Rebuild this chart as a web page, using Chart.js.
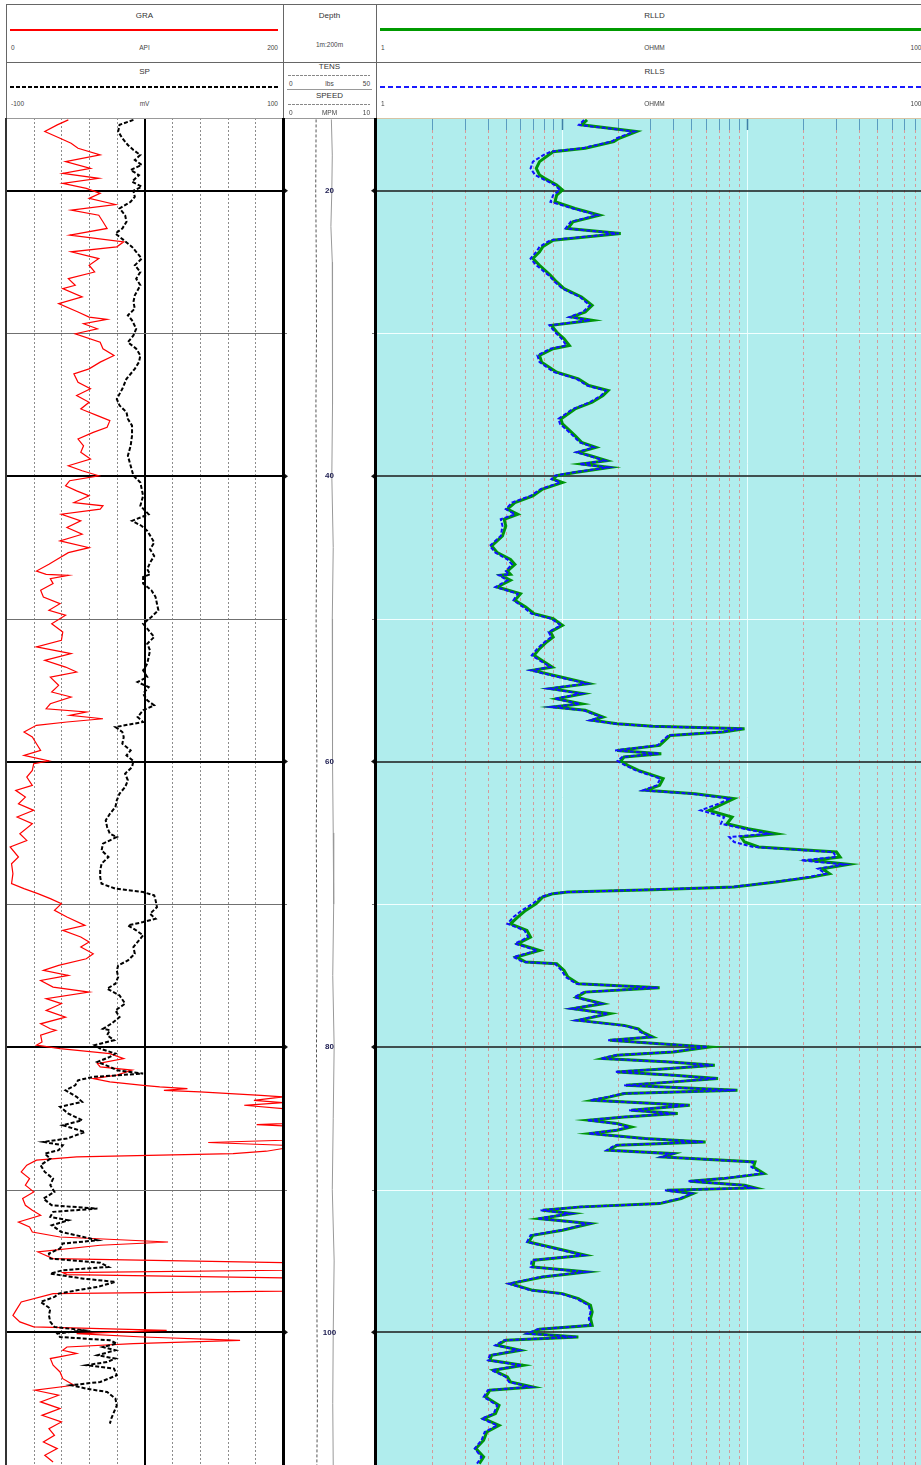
<!DOCTYPE html>
<html lang="en">
<head>
<meta charset="utf-8">
<title>Well log</title>
<script src="https://cdn.jsdelivr.net/npm/chart.js@4.4.1/dist/chart.umd.min.js"></script>
<style>
html, body { margin: 0; padding: 0; background: #fff; overflow: hidden; }
body { position: relative; width: 921px; height: 1465px; font-family: "Liberation Sans", Arial, sans-serif; }
canvas, .ln, .t { position: absolute; }
.t { white-space: nowrap; color: #444; font-size: 6.5px; line-height: 8px; }
.t.ttl { font-size: 8px; line-height: 10px; color: #333; }
.t.c { transform: translateX(-50%); }
.t.r { transform: translateX(-100%); }
</style>
</head>
<body>
<canvas id="leftTrack" width="277" height="1347" style="left:6px;top:118px"></canvas>
<canvas id="depthTrack" width="93" height="1347" style="left:283px;top:118px"></canvas>
<canvas id="resTrack" width="557" height="1347" style="left:376px;top:118px"></canvas>
<script>
// depth window of the log (m)
const DEPTH_MIN = 14.9;
const DEPTH_MAX = 109.3;
const MAJOR_DEPTHS = [20, 40, 60, 80, 100];
const MINOR_DEPTHS = [30, 50, 70, 90];
const GR_TICKS = [0, 20, 40, 60, 80, 100, 120, 140, 160, 180, 200];
const RES_MINOR = [2, 3, 4, 5, 6, 7, 8, 9, 20, 30, 40, 50, 60, 70, 80, 90, 200, 300, 400, 500, 600, 700, 800, 900];
const RES_DECADES = [10, 100];

// [depth m, API]
const GRA = [
  [15.03,45],[15.38,37],[15.85,28],[16.32,39],[16.67,47],[17.02,52],[17.49,68],[17.96,43],[18.43,61],[18.78,41],
  [19.13,67],[19.48,41],[19.83,58],[20.18,68],[20.53,60],[20.96,79],[21.35,47],[21.71,67],[22.17,70],[22.64,73],
  [23.11,46],[23.58,85],[23.93,80],[24.28,47],[24.75,67],[25.22,60],[25.69,64],[26.16,45],[26.62,50],[26.86,41],
  [27.44,55],[27.91,38],[28.5,52],[28.85,60],[29.01,73],[29.32,56],[29.67,66],[30.02,50],[30.61,68],[31.07,70],
  [31.54,78],[32.01,68],[32.48,60],[32.83,49],[33.42,52],[33.88,61],[34.35,51],[34.82,60],[35.29,54],[35.76,66],
  [36.11,75],[36.58,73],[36.93,63],[37.4,52],[37.87,56],[38.33,54],[38.8,61],[39.27,45],[39.62,55],[39.97,67],
  [40.32,46],[40.68,43],[41.03,51],[41.38,60],[41.85,49],[42.08,70],[42.31,68],[42.67,40],[43.13,54],[43.6,44],
  [44.07,55],[44.54,39],[45.01,60],[45.36,45],[45.83,37],[46.18,31],[46.65,22],[46.88,29],
  [46.95,45],[47.18,32],[47.53,34],[48.0,25],[48.47,27],[48.94,39],[49.4,31],[49.75,43],[50.34,33],[50.92,41],
  [51.51,40],[51.97,22],[52.44,47],[52.91,28],[53.38,43],[53.73,51],[54.08,32],[54.66,38],[55.13,33],[55.48,47],
  [55.95,32],[56.3,29],[56.53,58],[56.76,46],[57.0,70],[57.23,44],[57.46,22],[57.93,13],[58.28,19],[58.75,22],
  [59.22,25],[59.57,13],[59.96,31],[60.15,20],[60.62,19],[61.09,15],[61.67,19],[62.02,7],[62.49,14],[62.96,9],
  [63.42,20],[63.89,8],[64.36,19],[65.06,10],[65.53,15],[65.99,3],[66.69,9],[67.16,4],[67.86,5],[68.56,4],
  [68.91,13],[69.26,23],[69.61,32],[69.96,40],[70.43,35],[70.9,44],[71.48,57],[71.83,41],[72.3,54],[72.65,60],
  [73.0,54],[73.47,63],[73.82,58],[74.29,38],[74.64,27],[74.99,45],[75.34,25],[75.81,34],[76.16,60],[76.62,29],
  [76.97,40],[77.44,29],[77.91,43],[78.38,25],[78.73,32],
  [78.83,36],[79.18,25],[79.65,26],[79.88,22],[80.12,39],[80.47,75],[80.82,85],[81.17,66],[81.4,68],[81.63,91],
  [81.98,80],[82.22,63],[82.45,75],[82.69,99],[82.8,111],[82.92,131],[83.04,114],[83.15,140],[83.39,184],[83.5,200],
  [83.74,179],[83.9,200],[84.09,172],[84.32,200],[85.37,200],[85.44,181],[85.54,200],[86.54,200],[86.7,146],[86.89,200],
  [87.12,200],[87.31,188],[87.48,164],[87.71,51],[87.94,22],[88.29,15],[88.76,11],[89.23,17],[89.69,14],[90.16,20],
  [90.63,12],[91.1,14],[91.45,19],[91.8,25],[92.27,9],[92.62,17],[92.97,19],[93.32,39],[93.67,117],[93.9,68],
  [94.37,23],[94.84,34],[95.12,200],[95.65,200],[95.82,41],[95.96,44],[96.19,200],[97.12,200],[97.29,34],[97.87,11],
  [98.34,8],[98.81,5],[99.27,10],[99.62,20],[99.86,116],[100.09,51],[100.33,99],[100.56,169],[100.79,92],[101.03,44],
  [101.26,41],[101.49,51],[101.84,32],[102.31,34],[102.78,39],[103.25,41],[103.71,49],[104.06,21],[104.41,38],[104.88,25],
  [105.35,39],[105.82,26],[106.28,40],[106.75,31],[107.22,35],[107.69,27],[108.15,37],[108.62,28],[109.09,34]
];

// [depth m, mV]
const SP = [
  [15.03,-8],[15.38,-18],[15.85,-19],[16.32,-16],[16.79,-12],[17.14,-8],[17.49,-3],[17.84,-7],[18.19,-2],[18.54,-10],
  [18.9,-4],[19.36,-9],[19.71,-2],[20.0,-8],[20.42,-7],[20.77,-10],[21.24,-18],[21.71,-14],[22.17,-13],[22.64,-16],
  [22.99,-21],[23.46,-15],[23.93,-9],[24.28,-6],[24.75,-2],[25.22,-7],[25.69,-3],[26.16,-6],[26.62,-3],[27.33,-7],
  [27.79,-8],[28.26,-7],[28.73,-12],[29.08,-9],[29.67,-6],[30.14,-8],[30.61,-12],[31.07,-6],[31.54,-3],[32.01,-4],
  [32.48,-7],[33.18,-13],[33.88,-16],[34.59,-20],[35.05,-18],[35.52,-13],[35.99,-12],[36.46,-9],[37.16,-9],[37.87,-10],
  [38.57,-12],[39.27,-10],[39.97,-8],[40.44,-3],[40.91,-2],[41.38,-1],[42.08,-3],[42.67,3],[43.13,-9],[43.49,-2],
  [43.84,2],[44.31,5],[44.66,7],[45.13,4],[45.59,7],[46.06,4],[46.53,2],[46.88,4],
  [47.07,-1],[47.53,-1],[48.0,5],[48.47,8],[48.94,9],[49.4,10],[49.87,5],[50.34,-1],[50.81,3],[51.27,7],
  [51.74,2],[52.21,4],[52.67,3],[53.14,2],[53.61,-1],[54.08,2],[54.43,-5],[54.78,3],[55.24,-1],[55.71,2],
  [56.06,7],[56.41,-1],[56.88,-5],[57.23,-1],[57.58,-21],[57.93,-16],[58.28,-15],[58.75,-16],[59.22,-10],[59.57,-13],
  [59.96,-8],[60.39,-9],[60.85,-14],[61.32,-12],[61.79,-14],[62.25,-18],[62.72,-20],[63.19,-21],[63.66,-25],[64.12,-28],
  [64.59,-27],[65.06,-25],[65.29,-20],[65.76,-30],[66.23,-31],[66.69,-26],[67.16,-31],[67.63,-32],[68.1,-32],[68.56,-31],
  [68.91,-21],[69.15,-1],[69.38,7],[69.73,8],[70.2,9],[70.67,4],[71.02,8],[71.25,-1],[71.48,-12],[71.83,-6],
  [72.18,-1],[72.53,-4],[73.0,-8],[73.47,-7],[73.94,-12],[74.29,-19],[74.64,-20],[75.1,-19],[75.57,-21],[75.92,-27],
  [76.39,-18],[76.97,-14],[77.44,-21],[77.91,-18],[78.38,-24],[78.73,-30],
  [78.83,-25],[79.18,-27],[79.53,-22],[79.88,-36],[80.12,-32],[80.47,-21],[80.7,-25],[81.05,-34],[81.4,-25],[81.63,-20],
  [81.87,-1],[82.1,-37],[82.34,-48],[82.69,-50],[83.04,-57],[83.5,-49],[83.85,-45],[84.2,-61],[84.67,-55],[85.14,-45],
  [85.49,-59],[85.96,-43],[86.42,-56],[86.66,-73],[86.89,-59],[87.24,-62],[87.48,-72],[87.83,-68],[88.29,-75],[88.76,-72],
  [89.23,-66],[89.69,-68],[90.16,-65],[90.63,-73],[91.1,-67],[91.33,-34],[91.56,-66],[91.91,-68],[92.15,-55],[92.5,-67],
  [92.97,-60],[93.32,-44],[93.55,-34],[93.78,-59],[94.13,-61],[94.48,-69],[94.84,-68],[95.12,-32],[95.42,-26],[95.65,-59],
  [95.89,-68],[96.24,-44],[96.47,-21],[96.82,-34],[97.06,-49],[97.29,-62],[97.52,-65],[97.87,-75],[98.34,-68],[98.81,-69],
  [99.27,-68],[99.62,-65],[99.86,-44],[100.09,-63],[100.33,-61],[100.56,-25],[100.79,-20],[101.03,-30],[101.26,-21],[101.61,-34],
  [101.84,-21],[102.08,-27],[102.31,-42],[102.55,-22],[103.01,-20],[103.48,-32],[103.71,-53],[103.95,-42],[104.18,-27],[104.65,-21],
  [105.12,-20],[105.58,-22],[106.05,-24],[106.4,-25]
];

// [depth m, OHMM]
const RLLD = [
  [15.03,13.7],[15.38,12.8],[15.85,25.3],[16.32,20.4],[16.55,19.1],[17.02,13.4],[17.26,9.0],[17.49,8.5],[17.96,7.6],[18.43,7.3],
  [18.9,7.6],[19.13,8.1],[19.6,9.4],[19.95,10.1],[20.3,9.4],[20.77,9.2],[21.24,11.8],[21.71,16.0],[22.17,11.5],[22.64,10.8],
  [22.99,20.8],[23.46,9.0],[23.93,7.9],[24.28,7.6],[24.75,7.0],[25.22,7.6],[25.92,8.7],[26.39,9.4],[26.86,10.3],[27.44,12.8],
  [28.03,14.6],[28.5,13.4],[28.85,11.3],[29.08,14.6],[29.43,8.8],[29.9,9.4],[30.37,10.3],[30.84,11.0],[31.07,9.0],[31.54,7.6],
  [32.01,7.8],[32.71,9.4],[33.18,12.3],[33.65,14.0],[34.0,17.8],[34.35,16.7],[34.82,14.6],[35.29,11.8],[35.99,9.9],[36.34,10.1],
  [36.69,10.8],[37.16,11.8],[37.63,12.8],[37.98,15.3],[38.33,12.3],[38.57,14.3],[38.92,17.5],[39.15,12.8],[39.39,18.2],[39.74,11.8],
  [39.97,9.4],[40.21,9.0],[40.44,10.1],[40.91,7.9],[41.38,7.0],[41.85,5.6],[42.31,5.1],[42.67,5.8],[43.02,4.9],[43.49,5.0],
  [44.19,4.8],[44.89,4.2],[45.36,4.5],[45.83,5.3],[46.18,5.6],[46.65,5.1],[46.88,5.3],
  [46.95,4.7],[47.3,5.3],[47.77,4.5],[48.24,6.0],[48.7,5.6],[49.17,6.4],[49.64,7.1],[49.99,9.0],[50.46,10.1],[50.92,8.7],
  [51.27,9.0],[51.62,8.3],[52.09,7.6],[52.56,7.1],[52.91,7.8],[53.38,8.9],[53.61,7.0],[54.08,9.9],[54.54,14.0],[54.89,8.7],
  [55.24,13.1],[55.6,9.4],[55.95,12.8],[56.18,9.0],[56.41,13.4],[56.88,16.7],[57.11,14.6],[57.35,19.9],[57.53,30.9],[57.7,96.6],
  [57.93,74.2],[58.17,38.4],[58.52,36],[58.87,33.7],[59.22,19.9],[59.45,34.4],[59.68,21.7],[59.96,20.8],[60.27,22.7],[60.62,25.9],
  [61.2,35.2],[61.67,33.7],[62.02,28.3],[62.25,52.3],[62.6,84.7],[62.96,74.2],[63.42,62.3],[63.89,82.8],[64.36,77.6],[64.71,101],
  [65.06,143],[65.29,92.4],[65.64,96.6],[65.99,115],[66.34,302],[66.69,316],[66.93,222],[67.21,352],[67.51,253],[67.86,277],
  [68.1,222],[68.45,143],[68.8,84.7],[68.98,30.9],[69.15,10.8],[69.26,9.0],[69.5,7.9],[69.96,7.3],[70.43,6.4],[70.9,5.8],
  [71.37,5.3],[71.83,6.5],[72.3,6.8],[72.77,5.8],[73.24,7.6],[73.7,5.7],[74.05,6.4],[74.17,9.4],[74.64,10.3],[75.1,10.8],
  [75.57,12.3],[75.85,33.7],[76.16,13.4],[76.51,12.0],[76.97,16.7],[77.32,11.5],[77.67,18.2],[78.14,12.3],[78.49,21.7],[78.73,25.9],
  [78.95,27.1],[79.3,30.9],[79.53,18.2],[79.77,33.7],[80.0,62.3],[80.35,40.2],[80.58,19.9],[80.82,16.7],[81.05,38.4],[81.28,66.8],
  [81.52,38.4],[81.75,19.9],[81.98,40.2],[82.22,69.5],[82.45,40.2],[82.69,22.2],[83.04,88.5],[83.27,21.8],[83.5,18.2],[83.74,14.7],
  [84.09,49],[84.44,23.7],[84.67,42.2],[84.91,21.8],[85.14,14.0],[85.37,19.9],[85.61,23.7],[85.84,19.9],[86.07,14.3],[86.42,28.2],
  [86.66,59.6],[86.89,19.9],[87.24,17.9],[87.48,40.2],[87.71,35.2],[88.06,110],[88.41,108],[88.88,123],[89.23,74.2],[89.41,49],
  [89.69,96.6],[89.88,110],[90.05,36.8],[90.28,51],[90.63,44],[90.98,33.7],[91.21,12.8],[91.45,7.9],[91.68,11.5],[92.03,7.6],
  [92.38,14.3],[92.85,10.1],[93.2,7.0],[93.67,6.65],[94.13,9.4],[94.6,13.4],[94.95,7.1],[95.42,7.0],[95.77,13.7],[96.12,7.9],
  [96.59,5.3],[97.06,7.0],[97.29,10.1],[97.64,12.3],[98.11,14.3],[98.57,14.6],[99.04,14.3],[99.51,14.6],[99.79,7.6],[100.09,6.65],
  [100.33,12.3],[100.56,5.0],[100.91,4.5],[101.26,6.0],[101.61,4.2],[101.96,4.1],[102.31,6.2],[102.66,4.3],[103.13,5.1],[103.48,5.3],
  [103.83,7.0],[104.06,4.1],[104.53,3.9],[105.12,4.6],[105.7,4.4],[106.05,3.8],[106.52,4.6],[106.99,3.95],[107.57,3.8],[108.15,3.45],
  [108.74,3.8],[109.2,3.6]
];

// [depth m, OHMM]
const RLLS = [
  [15.03,13.2],[15.38,12.4],[15.85,24.6],[16.32,19.8],[16.55,18.6],[17.02,12.9],[17.26,8.7],[17.49,8.0],[17.96,7.0],[18.43,6.8],
  [18.9,7.2],[19.13,7.8],[19.6,9.2],[19.95,9.8],[20.3,9.0],[20.77,8.7],[21.24,11.5],[21.71,15.6],[22.17,11.2],[22.64,10.5],
  [22.99,20.3],[23.46,8.7],[23.93,7.6],[24.28,7.3],[24.75,6.8],[25.22,7.3],[25.92,8.5],[26.39,9.2],[26.86,10.1],[27.44,12.5],
  [28.03,14.2],[28.5,13.0],[28.85,11.0],[29.08,14.2],[29.43,8.6],[29.9,9.2],[30.37,10.0],[30.84,10.6],[31.07,8.7],[31.54,7.4],
  [32.01,7.6],[32.71,9.1],[33.18,12.0],[33.65,13.7],[34.0,17.3],[34.35,16.3],[34.82,14.2],[35.29,11.5],[35.99,9.6],[36.34,9.8],
  [36.69,10.5],[37.16,11.5],[37.63,12.5],[37.98,14.9],[38.33,12.0],[38.57,14.0],[38.92,17.1],[39.15,12.5],[39.39,17.8],[39.74,11.5],
  [39.97,9.2],[40.21,8.8],[40.44,9.8],[40.91,7.7],[41.38,6.8],[41.85,5.4],[42.31,5.0],[42.67,5.6],[43.02,4.7],[43.49,4.8],
  [44.19,4.7],[44.89,4.1],[45.36,4.4],[45.83,5.1],[46.18,5.4],[46.65,5.0],[46.88,5.2],
  [46.95,4.6],[47.3,5.1],[47.77,4.4],[48.24,5.8],[48.7,5.5],[49.17,6.2],[49.64,6.9],[49.99,8.8],[50.46,9.9],[50.92,8.5],
  [51.27,8.8],[51.62,8.1],[52.09,7.4],[52.56,6.9],[52.91,7.6],[53.38,8.7],[53.61,6.8],[54.08,9.6],[54.54,13.7],[54.89,8.5],
  [55.24,12.8],[55.6,9.2],[55.95,12.5],[56.18,8.8],[56.41,13.1],[56.88,16.3],[57.11,14.2],[57.35,19.4],[57.53,30.2],[57.7,94.0],
  [57.93,72.0],[58.17,37.5],[58.52,35],[58.87,32.8],[59.22,19.4],[59.45,33.5],[59.68,21.2],[59.96,20.0],[60.27,22.0],[60.62,25.1],
  [61.2,34.0],[61.67,32.5],[62.02,27.4],[62.25,50.0],[62.6,80.0],[62.96,70.0],[63.42,56.0],[63.89,75.0],[64.36,72.0],[64.71,96],
  [65.06,130],[65.29,80.0],[65.64,85.0],[65.99,108],[66.34,290],[66.69,300],[66.93,195],[67.21,335],[67.51,240],[67.86,265],
  [68.1,212],[68.45,138],[68.8,82.0],[68.98,30.0],[69.15,10.5],[69.26,8.8],[69.5,7.7],[69.96,7.0],[70.43,6.1],[70.9,5.5],
  [71.37,5.1],[71.83,6.3],[72.3,6.6],[72.77,5.6],[73.24,7.4],[73.7,5.5],[74.05,6.2],[74.17,9.2],[74.64,10.0],[75.1,10.5],
  [75.57,12.0],[75.85,33.0],[76.16,13.1],[76.51,11.7],[76.97,16.3],[77.32,11.2],[77.67,17.8],[78.14,12.0],[78.49,21.2],[78.73,25.3],
  [78.95,26.5],[79.3,30.2],[79.53,17.8],[79.77,33.0],[80.0,61.0],[80.35,39.3],[80.58,19.4],[80.82,16.3],[81.05,37.5],[81.28,65.3],
  [81.52,37.5],[81.75,19.4],[81.98,39.3],[82.22,68.0],[82.45,39.3],[82.69,21.7],[83.04,86.5],[83.27,21.3],[83.5,17.8],[83.74,14.3],
  [84.09,48],[84.44,23.1],[84.67,41.2],[84.91,21.3],[85.14,13.7],[85.37,19.4],[85.61,23.1],[85.84,19.4],[86.07,14.0],[86.42,27.5],
  [86.66,58.2],[86.89,19.4],[87.24,17.5],[87.48,39.3],[87.71,34.4],[88.06,107],[88.41,105],[88.88,120],[89.23,72.5],[89.41,48],
  [89.69,94.4],[89.88,107],[90.05,36.0],[90.28,50],[90.63,43],[90.98,33.0],[91.21,12.5],[91.45,7.7],[91.68,11.2],[92.03,7.4],
  [92.38,14.0],[92.85,9.9],[93.2,6.8],[93.67,6.5],[94.13,9.2],[94.6,13.1],[94.95,6.9],[95.42,6.8],[95.77,13.4],[96.12,7.7],
  [96.59,5.2],[97.06,6.8],[97.29,9.9],[97.64,12.0],[98.11,14.0],[98.57,14.3],[99.04,14.0],[99.51,14.3],[99.79,7.4],[100.09,6.5],
  [100.33,12.0],[100.56,4.9],[100.91,4.4],[101.26,5.9],[101.61,4.1],[101.96,4.0],[102.31,6.1],[102.66,4.2],[103.13,5.0],[103.48,5.2],
  [103.83,6.8],[104.06,4.0],[104.53,3.8],[105.12,4.5],[105.7,4.3],[106.05,3.7],[106.52,4.5],[106.99,3.85],[107.57,3.7],[108.15,3.4],
  [108.74,3.7],[109.2,3.5]
];

// [depth m, value]
const TENS = [
  [15,17.8],[20,17.6],[25,17.9],[30,18.0],[35,17.7],[40,17.9],[45,18.1],[50,17.8],[55,18.0],[60,18.2],
  [65,17.9],[70,18.1],[75,18.3],[80,18.0],[85,18.2],[90,18.4],[95,18.1],[100,18.3],[105,18.5],[109.3,18.2]
];
const SPEED = [
  [15,5.2],[17.5,5.3],[20,5.25],[22.5,5.15],[25,5.3],[30,5.35],[35,5.3],[40,5.25],[45,5.4],[50,5.3],[55,5.35],
  [60,5.3],[65,5.4],[70,5.45],[75,5.35],[80,5.5],[85,5.4],[90,5.3],[95,5.5],[100,5.4],[105,5.35],[109.3,5.4]
];

const pts = arr => arr.map(([d, v]) => ({ x: v, y: d }));

// ---------- header (plain html) ----------
function rule(x, y, w, h, bg) {
  const el = document.createElement('div');
  el.className = 'ln';
  el.style.cssText = `left:${x}px;top:${y}px;width:${w}px;height:${h}px;background:${bg}`;
  document.body.appendChild(el);
}
function dashRule(x, y, w, h, color, on, off) {
  rule(x, y, w, h, `repeating-linear-gradient(to right, ${color} 0 ${on}px, transparent ${on}px ${on + off}px)`);
}
function txt(s, x, yc, align, title) {
  const el = document.createElement('div');
  el.className = 't' + (title ? ' ttl' : '') + (align ? ' ' + align : '');
  el.textContent = s;
  el.style.left = x + 'px';
  el.style.top = (yc - (title ? 5 : 4)) + 'px';
  document.body.appendChild(el);
}

rule(6, 4, 927, 1, '#666');
rule(6, 62, 927, 1, '#666');
rule(6, 118, 370, 1, '#999');
rule(376, 118, 557, 1, '#d6c4a4');
rule(6, 4, 1, 114, '#666');
rule(283, 4, 1, 114, '#666');
rule(376, 4, 1, 114, '#666');
rule(287, 89, 85, 1, '#999');

txt('GRA', 144.5, 16, 'c', true);
rule(10, 29, 268, 2, '#ff0000');
txt('0', 11, 48);
txt('API', 144.5, 48, 'c');
txt('200', 278, 48, 'r');

txt('SP', 144.5, 72, 'c', true);
dashRule(10, 86, 268, 2, '#000', 4, 2);
txt('-100', 11, 104);
txt('mV', 144.5, 104, 'c');
txt('100', 278, 104, 'r');

txt('Depth', 329.5, 16, 'c', true);
txt('1m:200m', 329.5, 45, 'c');
txt('TENS', 329.5, 67, 'c', true);
dashRule(288, 75, 82, 1, '#888', 3, 1);
txt('0', 289, 84);
txt('lbs', 329.5, 84, 'c');
txt('50', 370, 84, 'r');
txt('SPEED', 329.5, 96, 'c', true);
dashRule(288, 104, 82, 1, '#888', 3, 1);
txt('0', 289, 113);
txt('MPM', 329.5, 113, 'c');
txt('10', 370, 113, 'r');

txt('RLLD', 654.5, 16, 'c', true);
rule(380, 28, 553, 3, '#009a00');
txt('1', 381, 48);
txt('OHMM', 654.5, 48, 'c');
txt('1000', 925, 48, 'r');
txt('RLLS', 654.5, 72, 'c', true);
dashRule(380, 86, 553, 2, '#1a1aff', 5, 3);
txt('1', 381, 104);
txt('OHMM', 654.5, 104, 'c');
txt('1000', 925, 104, 'r');

// ---------- track grid plugin ----------
const trackGrid = {
  id: 'trackGrid',
  beforeDatasetsDraw(chart, args, o) {
    const { ctx, chartArea: a } = chart;
    const ys = chart.scales.y;
    const xs = o.xAxis ? chart.scales[o.xAxis] : null;
    ctx.save();
    if (o.fill) {
      ctx.fillStyle = o.fill;
      ctx.fillRect(a.left, a.top, a.width, a.height);
    }
    const line = (x0, y0, x1, y1, color, width, dash) => {
      ctx.beginPath();
      ctx.setLineDash(dash || []);
      ctx.strokeStyle = color;
      ctx.lineWidth = width;
      ctx.moveTo(x0, y0);
      ctx.lineTo(x1, y1);
      ctx.stroke();
    };
    const px = v => Math.round(xs.getPixelForValue(v)) + 0.5;
    const py = d => Math.round(ys.getPixelForValue(d));

    if (o.kind === 'gr') {
      GR_TICKS.forEach(v => {
        if (v === 100) line(px(v) - 0.5, a.top, px(v) - 0.5, a.bottom, '#000', 2);
        else if (v > 0 && v < 200) line(px(v), a.top, px(v), a.bottom, '#8c8c8c', 1, [2, 2]);
      });
      MINOR_DEPTHS.forEach(d => line(a.left, py(d) + 0.5, a.right, py(d) + 0.5, '#707070', 1));
      MAJOR_DEPTHS.forEach(d => line(a.left, py(d), a.right, py(d), '#000', 2));
    }
    if (o.kind === 'res') {
      RES_MINOR.forEach(v => {
        line(px(v), a.top + 12, px(v), a.bottom, 'rgba(226,120,120,0.7)', 1, [3, 3]);
        line(px(v), a.top, px(v), a.top + 12, '#5a9cc0', 1);
      });
      RES_DECADES.forEach(v => {
        line(px(v), a.top + 12, px(v), a.bottom, '#eaffff', 1);
        line(px(v), a.top, px(v), a.top + 12, '#3f7fa6', 1.5);
      });
      MINOR_DEPTHS.forEach(d => line(a.left, py(d) + 0.5, a.right, py(d) + 0.5, '#f2ffff', 1));
      MAJOR_DEPTHS.forEach(d => line(a.left, py(d), a.right, py(d), '#1a1a1a', 1.5));
    }
    ctx.restore();
  },
  afterDraw(chart, args, o) {
    if (o.kind !== 'depth') return;
    const { ctx, chartArea: a } = chart;
    const ys = chart.scales.y;
    ctx.save();
    ctx.font = 'bold 8px "Liberation Sans", Arial, sans-serif';
    ctx.textAlign = 'center';
    ctx.textBaseline = 'middle';
    MAJOR_DEPTHS.forEach(d => {
      const y = ys.getPixelForValue(d);
      ctx.fillStyle = '#1c1c50';
      ctx.fillText(String(d), (a.left + a.right) / 2, y);
      ctx.fillStyle = '#111';
      ctx.beginPath();
      ctx.moveTo(a.left + 1, y - 3); ctx.lineTo(a.left + 5, y); ctx.lineTo(a.left + 1, y + 3); ctx.fill();
      ctx.beginPath();
      ctx.moveTo(a.right - 1, y - 3); ctx.lineTo(a.right - 5, y); ctx.lineTo(a.right - 1, y + 3); ctx.fill();
    });
    ctx.strokeStyle = '#777';
    ctx.lineWidth = 1;
    MINOR_DEPTHS.forEach(d => {
      const y = Math.round(ys.getPixelForValue(d)) + 0.5;
      ctx.beginPath();
      ctx.moveTo(a.left, y); ctx.lineTo(a.left + 4, y);
      ctx.moveTo(a.right - 4, y); ctx.lineTo(a.right, y);
      ctx.stroke();
    });
    ctx.restore();
  }
};

function makeTrack(id, datasets, xScales, gridOpts) {
  const scales = Object.assign({
    y: { type: 'linear', reverse: true, min: DEPTH_MIN, max: DEPTH_MAX, display: false }
  }, xScales);
  return new Chart(document.getElementById(id), {
    type: 'scatter',
    data: { datasets },
    options: {
      responsive: false,
      animation: false,
      devicePixelRatio: 1,
      layout: { padding: 0 },
      elements: { point: { radius: 0 }, line: { tension: 0 } },
      plugins: { legend: { display: false }, tooltip: { enabled: false }, trackGrid: gridOpts },
      scales
    },
    plugins: [trackGrid]
  });
}

// first dataset in each list is drawn on top
makeTrack('leftTrack', [
  { label: 'SP', data: pts(SP), xAxisID: 'xSP', showLine: true, borderColor: '#000000', borderWidth: 2, borderDash: [4, 2] },
  { label: 'GRA', data: pts(GRA), xAxisID: 'xGR', showLine: true, borderColor: '#ff0000', borderWidth: 1.2 }
], {
  xGR: { type: 'linear', axis: 'x', min: 0, max: 200, display: false },
  xSP: { type: 'linear', axis: 'x', min: -100, max: 100, display: false }
}, { kind: 'gr', xAxis: 'xGR' });

makeTrack('depthTrack', [
  { label: 'TENS', data: pts(TENS), xAxisID: 'xT', showLine: true, borderColor: '#555', borderWidth: 1, borderDash: [3, 2] },
  { label: 'SPEED', data: pts(SPEED), xAxisID: 'xS', showLine: true, borderColor: '#999', borderWidth: 1 }
], {
  xT: { type: 'linear', axis: 'x', min: 0, max: 50, display: false },
  xS: { type: 'linear', axis: 'x', min: 0, max: 10, display: false }
}, { kind: 'depth' });

makeTrack('resTrack', [
  { label: 'RLLS', data: pts(RLLS), xAxisID: 'xR', showLine: true, borderColor: '#1010ff', borderWidth: 2, borderDash: [4, 2] },
  { label: 'RLLD', data: pts(RLLD), xAxisID: 'xR', showLine: true, borderColor: '#00960a', borderWidth: 3 }
], {
  xR: { type: 'logarithmic', axis: 'x', min: 1, max: 1000, display: false }
}, { kind: 'res', xAxis: 'xR', fill: '#b0eded' });

// track borders
rule(5, 118, 2, 1347, '#333');
rule(282, 118, 3, 1347, '#000');
rule(374, 118, 3, 1347, '#000');
</script>
</body>
</html>
